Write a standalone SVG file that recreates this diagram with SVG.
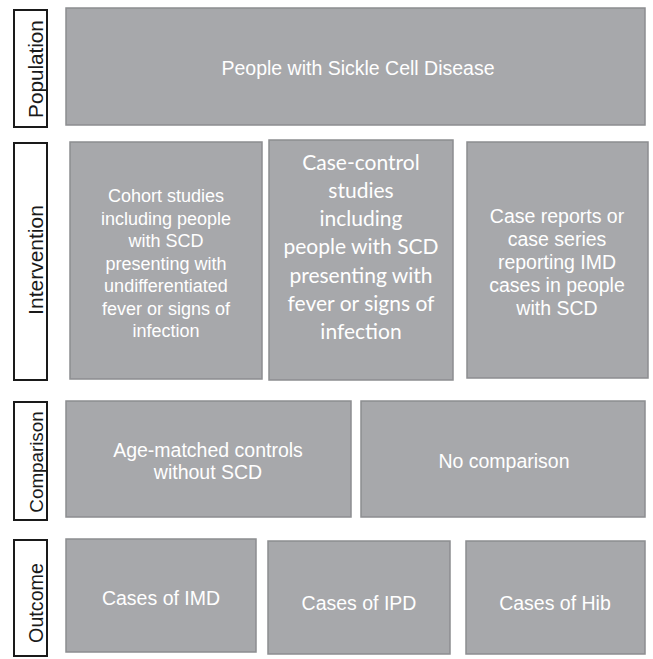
<svg xmlns="http://www.w3.org/2000/svg" width="653" height="659" viewBox="0 0 653 659">
<style>
.lab{fill:#fff;stroke:#1a1a1a;stroke-width:2}
.box{fill:#a7a8ab;stroke:#8c8d90;stroke-width:1.5}
.lt{font-family:"Liberation Sans",Arial,sans-serif;font-size:20px;fill:#1a1a1a;text-anchor:middle}
.t{font-family:"Liberation Sans",Arial,sans-serif;font-size:19.5px;fill:#fff;text-anchor:middle}
.t18{font-family:"Liberation Sans",Arial,sans-serif;font-size:18px;fill:#fff;text-anchor:middle}
.tc{font-family:Lato,"Open Sans",sans-serif;font-size:21px;fill:#fff;text-anchor:middle}
</style>
<rect width="653" height="659" fill="#fff"/>
<g id="label-population"><rect class="lab" x="14" y="10" width="33" height="117"/><text class="lt" style="font-size:20.7px" transform="translate(42.5,69) rotate(-90)">Population</text></g>
<g id="label-intervention"><rect class="lab" x="14" y="143" width="33" height="237"/><text class="lt" style="font-size:21px" transform="translate(43,260) rotate(-90)">Intervention</text></g>
<g id="label-comparison"><rect class="lab" x="14" y="402" width="33" height="118"/><text class="lt" style="font-size:18.8px" transform="translate(42.5,462) rotate(-90)">Comparison</text></g>
<g id="label-outcome"><rect class="lab" x="14" y="540" width="33" height="116"/><text class="lt" style="font-size:19.7px" transform="translate(42.5,603) rotate(-90)">Outcome</text></g>
<g id="population"><rect class="box" x="66" y="8" width="579" height="117"/><text class="t" x="358" y="75">People with Sickle Cell Disease</text></g>
<g id="cohort"><rect class="box" x="70" y="142" width="192" height="237"/>
<text class="t18"><tspan x="166" y="202">Cohort studies</tspan><tspan x="166" y="224.5">including people</tspan><tspan x="166" y="247">with SCD</tspan><tspan x="166" y="269.5">presenting with</tspan><tspan x="166" y="292">undifferentiated</tspan><tspan x="166" y="314.5">fever or signs of</tspan><tspan x="166" y="337">infection</tspan></text></g>
<g id="case-control"><rect class="box" x="269" y="140" width="184" height="240"/>
<text class="tc"><tspan x="361" y="169.5">Case-control</tspan><tspan x="361" y="197.8">studies</tspan><tspan x="361" y="226.1">including</tspan><tspan x="361" y="254.4">people with SCD</tspan><tspan x="361" y="282.7">presenting with</tspan><tspan x="361" y="311">fever or signs of</tspan><tspan x="361" y="339.3">infection</tspan></text></g>
<g id="case-reports"><rect class="box" x="467" y="142" width="181" height="236"/>
<text class="t"><tspan x="557" y="223">Case reports or</tspan><tspan x="557" y="246">case series</tspan><tspan x="557" y="269">reporting IMD</tspan><tspan x="557" y="292">cases in people</tspan><tspan x="557" y="315">with SCD</tspan></text></g>
<g id="age-matched"><rect class="box" x="66" y="401" width="285" height="116"/>
<text class="t"><tspan x="208" y="457">Age-matched controls</tspan><tspan x="208" y="479">without SCD</tspan></text></g>
<g id="no-comparison"><rect class="box" x="361" y="401" width="284" height="116"/><text class="t" x="504" y="468">No comparison</text></g>
<g id="imd"><rect class="box" x="66" y="539" width="190" height="113"/><text class="t" x="161" y="605">Cases of IMD</text></g>
<g id="ipd"><rect class="box" x="268" y="541" width="182" height="113"/><text class="t" x="359" y="610">Cases of IPD</text></g>
<g id="hib"><rect class="box" x="466" y="541" width="179" height="113"/><text class="t" x="555" y="610">Cases of Hib</text></g>
<g id="connectors"></g>
</svg>
